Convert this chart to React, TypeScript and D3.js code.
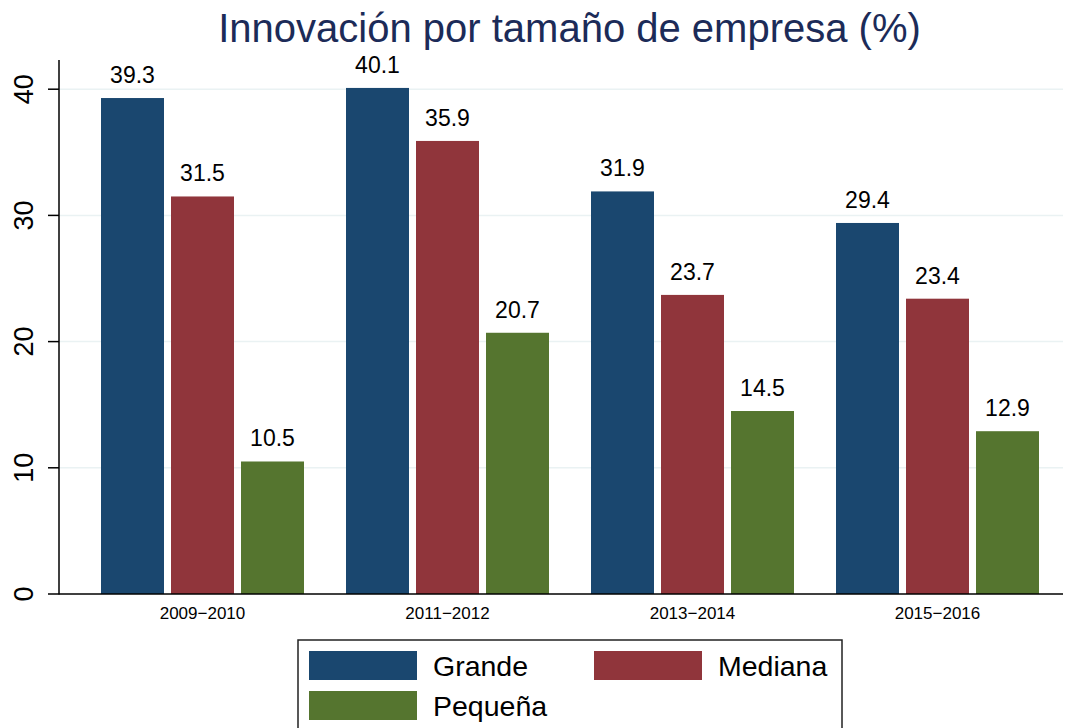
import React from "react";
import * as d3 from "d3";

const periods = ["2009−2010", "2011−2012", "2013−2014", "2015−2016"];
const seriesNames = ["Grande", "Mediana", "Pequeña"];
const grande = [39.3, 40.1, 31.9, 29.4];
const mediana = [31.5, 35.9, 23.7, 23.4];
const pequena = [10.5, 20.7, 14.5, 12.9];
const yTicks = [0, 10, 20, 30, 40];
const colors = ["#1a476f", "#90353b", "#55752f"];

const W = 1071;
const H = 728;
const FONT = "'Liberation Sans', Arial, Helvetica, sans-serif";

export default function App() {
  const values = [grande, mediana, pequena];
  const left = 59;
  const right = 1063;
  const y = d3.scaleLinear().domain([0, 40]).range([594, 89.2]);
  const x0 = d3.scaleBand<string>().domain(periods).range([80, 1060]).paddingInner(0).paddingOuter(0);
  const x1 = d3.scaleBand<string>().domain(seriesNames).range([21, 224]).paddingInner(0.1).paddingOuter(0);

  return (
    <svg width={W} height={H} style={{ position: "absolute", left: 0, top: 0, background: "#fff" }} fontFamily={FONT}>
      <rect x={0} y={0} width={W} height={H} fill="#ffffff" />
      <text x={569.5} y={42} textAnchor="middle" fontSize={40} fill="#1c2b58">
        Innovación por tamaño de empresa (%)
      </text>
      {yTicks.filter((t) => t > 0).map((t) => (
        <line key={"g" + t} x1={left} x2={right} y1={y(t)} y2={y(t)} stroke="#eaf2f3" strokeWidth={1.5} />
      ))}
      {periods.map((p, i) => (
        <g key={p} transform={`translate(${x0(p)},0)`}>
          {seriesNames.map((s, j) => {
            const v = values[j][i];
            const bx = x1(s)!;
            return (
              <g key={s}>
                <rect x={bx} y={y(v)} width={x1.bandwidth()} height={y(0) - y(v)} fill={colors[j]} />
                <text x={bx + x1.bandwidth() / 2} y={y(v) - 15} textAnchor="middle" fontSize={23} fill="#000">
                  {v.toFixed(1)}
                </text>
              </g>
            );
          })}
          <text x={x0.bandwidth() / 2} y={619} textAnchor="middle" fontSize={17} fill="#000">
            {p}
          </text>
        </g>
      ))}
      <line x1={left} x2={left} y1={60} y2={594.5} stroke="#000" strokeWidth={1.5} />
      <line x1={left} x2={right} y1={594} y2={594} stroke="#000" strokeWidth={1.5} />
      {yTicks.map((t) => (
        <g key={"t" + t}>
          <line x1={48} x2={left} y1={y(t)} y2={y(t)} stroke="#000" strokeWidth={1.5} />
          <text
            transform={`translate(33,${y(t)}) rotate(-90)`}
            textAnchor="middle"
            fontSize={27}
            fill="#000"
          >
            {t}
          </text>
        </g>
      ))}
      <rect x={298} y={640} width={544} height={100} fill="#fff" stroke="#222" strokeWidth={1.5} />
      {seriesNames.map((s, j) => {
        const col = j === 1 ? 1 : 0;
        const row = j === 2 ? 1 : 0;
        const sx = col === 0 ? 309 : 594;
        const sy = row === 0 ? 651 : 691;
        return (
          <g key={"l" + s}>
            <rect x={sx} y={sy} width={108} height={29} fill={colors[j]} />
            <text x={sx + 124} y={sy + 25} fontSize={28.5} fill="#000">
              {s}
            </text>
          </g>
        );
      })}
    </svg>
  );
}
